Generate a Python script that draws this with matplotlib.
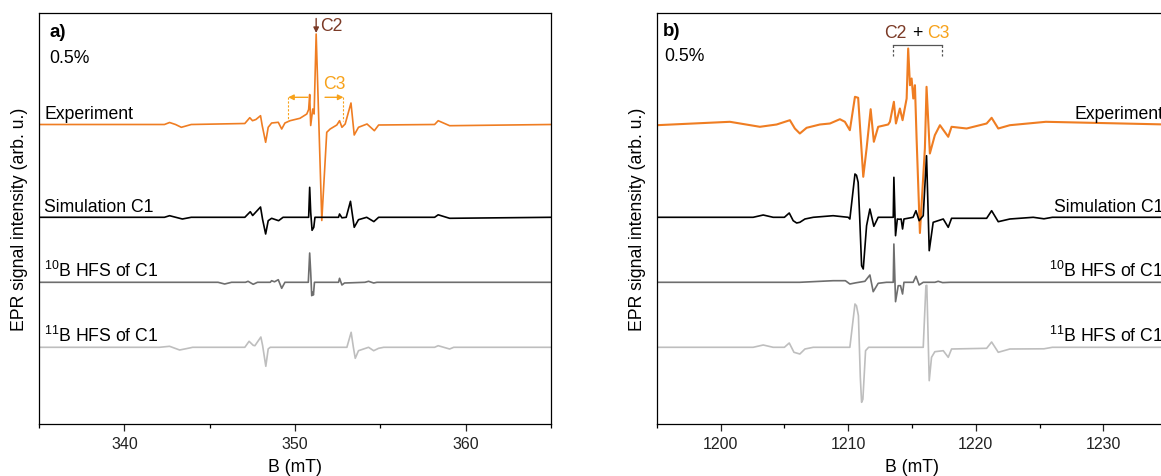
import matplotlib
matplotlib.use('Agg')
import matplotlib.pyplot as plt
import numpy as np
from matplotlib.ticker import MultipleLocator

plt.rcParams['font.family'] = ['Liberation Sans', 'DejaVu Sans']
plt.rcParams['mathtext.fontset'] = 'custom'
plt.rcParams['mathtext.rm'] = 'Liberation Sans'
plt.rcParams['mathtext.default'] = 'regular'

# ---------------- Panel a (X-band region) ----------------
a_exp_B = [335, 342.35, 342.65, 343.0, 343.34, 343.92, 347.06, 347.35, 347.51, 347.71, 347.98,
           348.08, 348.28, 348.43, 348.63, 349.02, 349.22, 349.41, 349.71, 350.29, 350.69, 350.80,
           350.86, 350.92, 351.04, 351.12, 351.24, 351.57, 351.86, 352.06, 352.45, 352.61, 352.75,
           352.94, 353.28, 353.47, 353.72, 354.22, 354.65, 354.9, 358.18, 358.39, 359.06, 365]
a_exp_I = [0, 0, 2, 0, -2.8, 0, 1, 6.8, 3.8, 5, 8.8,
           -1.2, -17.8, -2.8, 1.5, 2.2, -4.5, 1.5, 3.8, 6.2, 10.5, 15,
           30, -1, 15.5, 10.5, 90.5, -96, -7.8, -4.5, -0.5, 3.8, -2.8,
           0.5, 21.5, -10.5, -2.8, 0.5, -6.2, -0.5, 0, 3.8, -1.2, 0]

a_sim_B = [335, 342.35, 342.65, 343.4, 343.92, 347.06, 347.38, 347.52, 347.98, 348.1, 348.28,
           348.43, 348.63, 349.04, 349.3, 350.8, 350.86, 350.92, 351.0, 351.1, 351.17, 352.55,
           352.61, 352.75, 353.0, 353.25, 353.47, 353.72, 354.2, 354.62, 354.9, 358.18, 358.39,
           359.06, 365]
a_sim_I = [0, 0, 1.6, -1.7, 0, 0, 5.6, 1.8, 10.3, -2, -16.7,
           -3.4, -1, -3.4, 0, 0, 30, 5, -13, -10, 0, 0,
           3.3, -0.5, 0, 16, -10, -2.4, 0, -4.3, 0, 0, 2.5,
           -1, 0]

a_b10_B = [335, 345.49, 345.88, 346.28, 347.1, 347.25, 347.55, 347.8, 348.55, 348.63, 348.8,
           349.02, 349.22, 349.41, 350.78, 350.86, 350.92, 350.98, 351.03, 351.08, 351.14, 352.55,
           352.61, 352.75, 352.9, 354.1, 354.31, 354.61, 354.8, 365]
a_b10_I = [0, 0, -1.7, 0, 0, 1, -2, 0, 0, 1.6, 0.5,
           2.6, -6, 0, 0, 29.3, 10, -13.4, -10, -12.7, 0, 0,
           4, -2.7, -0.7, 0, 1, -0.7, 0, 0]

a_b11_B = [335, 342.06, 342.65, 343.24, 343.82, 344.0, 347.06, 347.31, 347.55, 347.65, 348.0,
           348.1, 348.29, 348.43, 348.55, 353.04, 353.29, 353.42, 353.53, 353.72, 354.31, 354.61,
           354.9, 355.2, 358.18, 358.39, 359.06, 359.3, 365]
a_b11_I = [0, 0, 1, -2.7, -0.7, 0, 0, 6, 2, 1.6, 10.3,
           2, -19, -1.6, 0, 0, 15, 0, -11, -3.4, 0, -3.4,
           -1, 0, 0, 1.6, -1.7, 0, 0]

# ---------------- Panel b (high-field region) ----------------
b_exp_B = [1195, 1200.73, 1203.08, 1204.39, 1205.43, 1205.82, 1206.21, 1206.74, 1207.78, 1208.57,
           1209.35, 1209.74, 1210.13, 1210.53, 1210.78, 1211.18, 1211.44, 1211.76, 1212.01, 1212.35,
           1213.13, 1213.27, 1213.58, 1213.74, 1214.05, 1214.26, 1214.58, 1214.70, 1214.84, 1214.97,
           1215.1, 1215.23, 1215.36, 1215.62, 1216.01, 1216.14, 1216.40, 1216.79, 1217.19, 1217.84,
           1218.10, 1219.28, 1220.85, 1221.24, 1221.76, 1222.67, 1225.49, 1235]
b_exp_I = [-0.7, 2.7, -2.3, 0, 4.3, -4, -9, -3.3, 0, 1,
           5.3, 2.7, -5.7, 27.7, 26.7, -52.3, -24, 15.3, -17.3, -2.3,
           0, 2.7, 22.7, 1, 16, 4.3, 26, 76, 39.3, 46,
           26, 39.3, -14, -108.5, -24, 37.7, -29, -10.7, -0.7, -12.3,
           -2.3, -4, 1, 6.7, -4, -0.7, 2.7, 0]

b_sim_B = [1195, 1202.55, 1203.34, 1204.12, 1205.0, 1205.38, 1205.69, 1205.96, 1206.21, 1206.61,
           1207.26, 1208.82, 1210.0, 1210.13, 1210.53, 1210.65, 1210.78, 1210.9, 1211.05, 1211.18,
           1211.44, 1211.70, 1212.01, 1212.35, 1213.53, 1213.58, 1213.71, 1213.85, 1214.0, 1214.15,
           1214.26, 1214.37, 1215.09, 1215.31, 1215.56, 1215.88, 1216.14, 1216.35, 1216.66, 1217.45,
           1217.84, 1218.10, 1220.85, 1221.24, 1221.76, 1222.67, 1224.5, 1225.34, 1226, 1235]
b_sim_I = [0, 0, 2.3, 0, 0, 4.3, -3.4, -5.7, -5, -1.7,
           0, 1.6, 0, -1.7, 43.3, 42, 35, 0, -48.4, -51.7,
           -8.4, 8.3, -9, 0, 0, 40, -18.4, -1.7, -2, -1.7,
           -11.7, -1.7, 0, 6.6, -3.4, 1.6, 61.6, -33.4, -5, -1.7,
           -10, -1, -1, 6.6, -4.4, -1.7, 0, -1.5, 0, 0]

b_b10_B = [1195, 1206.2, 1208.82, 1209.78, 1210.13, 1210.6, 1211.31, 1211.70, 1211.96, 1212.35,
           1213.0, 1213.53, 1213.58, 1213.71, 1213.92, 1214.1, 1214.26, 1214.37, 1215.09, 1215.31,
           1215.56, 1215.88, 1216.8, 1217.05, 1217.4, 1218, 1235]
b_b10_I = [0, 0, 1.6, 1.6, -1.7, -0.5, 1, 7.3, -9.4, -1,
           0, 0, 38.3, -19.4, -3.4, -3.4, -11.7, 0, 0, 6,
           -2.7, 0, 0, 1, -0.3, 0, 0]

b_b11_B = [1195, 1202.55, 1203.34, 1204.12, 1205.0, 1205.38, 1205.75, 1206.21, 1206.61, 1207.26,
           1210.13, 1210.53, 1210.65, 1210.8, 1210.95, 1211.05, 1211.15, 1211.36, 1211.6, 1215.88,
           1216.09, 1216.16, 1216.35, 1216.53, 1216.79, 1217.45, 1217.84, 1218.10, 1220.85, 1221.24,
           1221.76, 1222.67, 1225.34, 1226, 1235]
b_b11_I = [0, 0, 2.3, 0, 0, 4.3, -5, -6.7, -1.7, 0,
           0, 43.3, 41.5, 31.6, -30, -55, -52, -3.4, 0, 0,
           61.6, 62, -33.4, -10, -4.4, -3.4, -10, -1.7, -1, 5.3,
           -5, -1.7, -1.5, 0, 0]

labels = ['Experiment', 'Simulation C1', '$^{10}$B HFS of C1', '$^{11}$B HFS of C1']
offsets = [0, -92.8, -157.8, -222.8]
colors = ['#EF7D22', '#000000', '#6E6E6E', '#BEBEBE']
C2_COLOR = '#7B3A26'
C3_COLOR = '#F7A21B'

W, H = 1161, 477
fig = plt.figure(figsize=(W / 100, H / 100), dpi=100)
ax_a = fig.add_axes([39 / W, 52 / H, 512 / W, 411 / H])
ax_b = fig.add_axes([656.8 / W, 52 / H, 510.4 / W, 411 / H])

FS = 12.7
for ax in (ax_a, ax_b):
    ax.set_ylim(-299.5, 111.5)
    ax.set_yticks([])
    for s in ax.spines.values():
        s.set_linewidth(0.9)
    ax.tick_params(axis='x', which='major', direction='out', length=5, width=0.9,
                   pad=4, labelsize=11.5, colors='#222222')
    ax.tick_params(axis='x', which='minor', direction='out', length=3, width=0.9)
    ax.set_xlabel('B (mT)', fontsize=FS, labelpad=5)
    ax.set_ylabel('EPR signal intensity (arb. u.)', fontsize=FS, labelpad=8)

# panel a traces
ax_a.set_xlim(335, 365)
ax_a.xaxis.set_major_locator(MultipleLocator(10))
ax_a.xaxis.set_minor_locator(MultipleLocator(5))
for (B, I), off, c in zip([(a_exp_B, a_exp_I), (a_sim_B, a_sim_I), (a_b10_B, a_b10_I), (a_b11_B, a_b11_I)],
                          offsets, colors):
    ax_a.plot(B, np.array(I) + off, color=c, lw=1.2, solid_joinstyle='round')
for lab, off in zip(labels, offsets):
    ax_a.text(335.3, off + 6, lab, fontsize=FS, ha='left', va='baseline')
ax_a.text(335.6, 92.5, 'a)', fontsize=13.5, fontweight='bold', ha='left', va='center')
ax_a.text(335.6, 66.5, '0.5%', fontsize=FS, ha='left', va='center')

# C2 arrow and label
ax_a.annotate('', xy=(351.24, 91.5), xytext=(351.24, 106),
              arrowprops=dict(arrowstyle='-|>', color=C2_COLOR, lw=1.0, mutation_scale=8,
                              shrinkA=0, shrinkB=0))
ax_a.text(351.45, 98.5, 'C2', fontsize=FS, color=C2_COLOR, ha='left', va='center')
# C3 arrows
ax_a.text(351.65, 40.5, 'C3', fontsize=FS, color=C3_COLOR, ha='left', va='center')
for x0, x1 in [(350.76, 349.60), (351.76, 352.84)]:
    ax_a.annotate('', xy=(x1, 27.2), xytext=(x0, 27.2),
                  arrowprops=dict(arrowstyle='-|>', color=C3_COLOR, lw=1.0, mutation_scale=8,
                                  shrinkA=0, shrinkB=0))
    ax_a.plot([x1, x1], [27.2, 3.8], color=C3_COLOR, lw=0.8, ls=(0, (2, 1.5)))

# panel b traces
ax_b.set_xlim(1195, 1235)
ax_b.xaxis.set_major_locator(MultipleLocator(10))
ax_b.xaxis.set_minor_locator(MultipleLocator(5))
for (B, I), off, c in zip([(b_exp_B, b_exp_I), (b_sim_B, b_sim_I), (b_b10_B, b_b10_I), (b_b11_B, b_b11_I)],
                          offsets, colors):
    ax_b.plot(B, np.array(I) + off, color=c, lw=1.5 if c == colors[0] else 1.2, solid_joinstyle='round')
for lab, off in zip(labels, offsets):
    ax_b.text(1234.7, off + 6, lab, fontsize=FS, ha='right', va='baseline')
ax_b.text(1195.5, 93.5, 'b)', fontsize=13.5, fontweight='bold', ha='left', va='center')
ax_b.text(1195.6, 68.5, '0.5%', fontsize=FS, ha='left', va='center')

# C2 + C3 bracket
ax_b.plot([1213.48, 1217.37], [79.3, 79.3], color='#555555', lw=0.9)
for xb in (1213.48, 1217.37):
    ax_b.plot([xb, xb], [79.3, 69], color='#555555', lw=0.9, ls=(0, (2, 1.5)))
ax_b.text(1214.6, 92.2, 'C2', fontsize=FS, color=C2_COLOR, ha='right', va='center')
ax_b.text(1215.38, 92.2, '+', fontsize=FS, color='black', ha='center', va='center')
ax_b.text(1216.2, 92.2, 'C3', fontsize=FS, color=C3_COLOR, ha='left', va='center')

fig.savefig('out.png', dpi=100)
